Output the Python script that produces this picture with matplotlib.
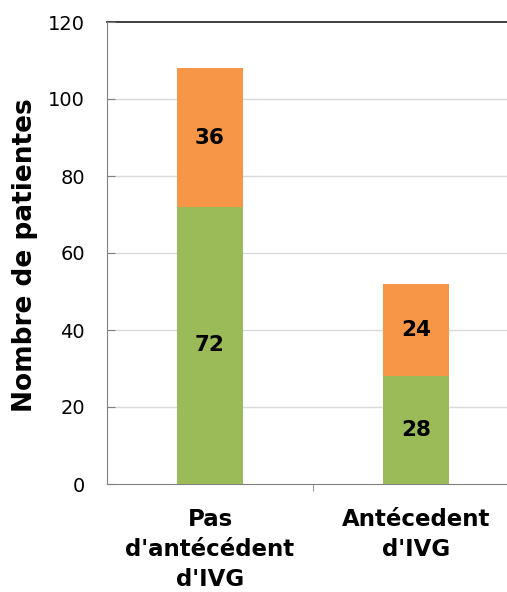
import matplotlib
matplotlib.use('Agg')
from matplotlib import pyplot as plt

categories = ["Pas\nd'antécédent\nd'IVG", "Antécedent\nd'IVG"]
bottom_vals = [72, 28]
top_vals = [36, 24]
yticks = [0, 20, 40, 60, 80, 100, 120]

green = '#9BBB59'
orange = '#F79646'

fig = plt.figure(figsize=(5.07, 5.92), dpi=100)
ax = fig.add_axes([107 / 507, 108 / 592, 412 / 507, 462 / 592])

x = list(range(len(categories)))
ax.bar(x, bottom_vals, width=0.32, color=green, zorder=3)
ax.bar(x, top_vals, width=0.32, bottom=bottom_vals, color=orange, zorder=3)

for i in x:
    ax.text(i, bottom_vals[i] / 2, str(bottom_vals[i]), ha='center', va='center',
            fontsize=15.5, fontweight='bold', zorder=4)
    ax.text(i, bottom_vals[i] + top_vals[i] / 2, str(top_vals[i]), ha='center', va='center',
            fontsize=15.5, fontweight='bold', zorder=4)

ax.set_xlim(-0.5, 1.5)
ax.set_ylim(0, 120)
ax.set_yticks(yticks)
ax.set_yticklabels([str(v) for v in yticks], fontsize=14)
ax.tick_params(axis='y', direction='in', length=6, color='#808080', pad=16)
for v in yticks[1:-1]:
    ax.axhline(v, color='#d9d9d9', lw=1, zorder=1)
ax.axhline(120, color='#202020', lw=1.2, zorder=1, clip_on=False)

ax.set_xticks([0.5], minor=True)
ax.set_xticks(x)
ax.set_xticklabels(categories, fontsize=16.5, fontweight='bold', linespacing=1.4)
ax.tick_params(axis='x', which='major', length=0, pad=17)
ax.tick_params(axis='x', which='minor', direction='out', length=5, color='#808080')

for s in ['top', 'right']:
    ax.spines[s].set_visible(False)
ax.spines['left'].set_color('#808080')
ax.spines['bottom'].set_color('#808080')

fig.text(25 / 507, 1 - 255 / 592, 'Nombre de patientes', rotation=90, ha='center', va='center',
         fontsize=19, fontweight='bold')

fig.savefig('out.png', dpi=100)
